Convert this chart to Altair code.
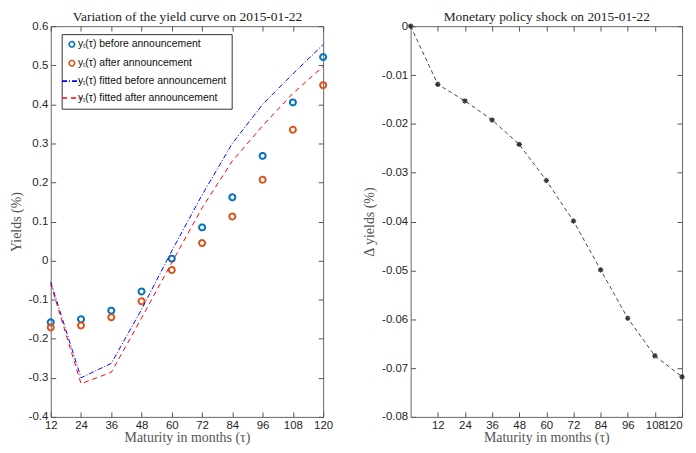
import altair as alt
import pandas as pd

# ---------------- data ----------------
maturities = [12, 24, 36, 48, 60, 72, 84, 96, 108, 120]
yield_before = [-0.158, -0.150, -0.128, -0.079, 0.005, 0.085, 0.162, 0.268, 0.405, 0.521]
yield_after = [-0.171, -0.166, -0.145, -0.104, -0.024, 0.045, 0.113, 0.207, 0.335, 0.449]
fit_before = [-0.055, -0.300, -0.263, -0.125, 0.025, 0.168, 0.300, 0.400, 0.478, 0.553]
fit_after = [-0.060, -0.315, -0.286, -0.147, -0.005, 0.135, 0.255, 0.345, 0.428, 0.497]

shock_maturities = [0, 12, 24, 36, 48, 60, 72, 84, 96, 108, 120]
shock = [0.0, -0.0119, -0.0153, -0.0192, -0.0242, -0.0316, -0.0399, -0.0499, -0.0598, -0.0675, -0.0718]

series_names = [
    "yₜ(τ) before announcement",
    "yₜ(τ) after announcement",
    "yₜ(τ) fitted before announcement",
    "yₜ(τ) fitted after announcement",
]
x_ticks = [12, 24, 36, 48, 60, 72, 84, 96, 108, 120]
left_y_ticks = [-0.4, -0.3, -0.2, -0.1, 0.0, 0.1, 0.2, 0.3, 0.4, 0.5, 0.6]
right_y_ticks = [0.0, -0.01, -0.02, -0.03, -0.04, -0.05, -0.06, -0.07, -0.08]

left_title = "Variation of the yield curve on 2015-01-22"
right_title = "Monetary policy shock on 2015-01-22"
x_title = "Maturity in months (τ)"
left_y_title = "Yields (%)"
right_y_title = "Δ yields (%)"

# ---------------- tables ----------------
rows = []
for vals, name in zip([yield_before, yield_after, fit_before, fit_after], series_names):
    for m, v in zip(maturities, vals):
        rows.append({"maturity": m, "value": v, "series": name,
                     "kind": "obs" if "fitted" not in name else "fit"})
left_df = pd.DataFrame(rows)
shock_df = pd.DataFrame({"maturity": shock_maturities, "value": shock})

# ---------------- styling ----------------
W, H = 274, 393
SANS = "Liberation Sans"
SERIF = "Liberation Serif"
TICK = 5
label_color = "#262626"
title_color = "#555555"

circle_path = "M1,0A1,1 0 1,1 -1,0A1,1 0 1,1 1,0Z"
line_path = "M-3.6,0L3.6,0"
star_path = "M-1,0L1,0M0,-1L0,1M-0.7,-0.7L0.7,0.7M-0.7,0.7L0.7,-0.7"


def axis_main(orient, values, title, lblexpr, flush=False):
    horiz = orient == "bottom"
    return alt.Axis(orient=orient, values=values, title=title, labelExpr=lblexpr,
                    offset=-TICK, tickSize=TICK, tickColor="#555555", domain=False,
                    grid=False, labelFont=SANS, labelFontSize=11.5, labelColor=label_color,
                    labelPadding=2.5 if horiz else 3, labelFlush=flush, labelOverlap=False,
                    minExtent=0,
                    titleFont=SERIF, titleFontSize=14, titleFontWeight="normal",
                    titleColor=title_color, titlePadding=0 if horiz else 5)


def axis_mirror(orient, values, title=None):
    if title is not None:
        kw = dict(title=title, titleFont=SERIF, titleFontSize=13.5, titleFontWeight="normal",
                  titleColor="#222222", titlePadding=7.5)
    else:
        kw = dict(title=None)
    return alt.Axis(orient=orient, values=values, labels=False,
                    offset=-TICK, tickSize=TICK, tickColor="#555555", domain=False, grid=False,
                    minExtent=0, maxExtent=0, **kw)


color_scale = alt.Scale(domain=series_names, range=["#0072BD", "#D95319", "#0000FF", "#FF0000"])
shape_scale = alt.Scale(domain=series_names, range=[circle_path, circle_path, line_path, line_path])
dash_scale = alt.Scale(domain=series_names, range=[[1, 0], [1, 0], [5, 2, 1, 2], [5, 4]])

lx = alt.Scale(domain=[12, 120], nice=False, zero=False)
ly = alt.Scale(domain=[-0.4, 0.6], nice=False, zero=False)
lbl1 = "datum.value == 0 ? '0' : '' + round(datum.value * 10) / 10"

legend = alt.Legend(title=None, orient="none", legendX=11, legendY=8,
                    fillColor="white", strokeColor="#333333", padding=5,
                    labelFont=SANS, labelFontSize=10.5, labelColor="#111111", labelLimit=0,
                    symbolSize=30, symbolStrokeWidth=1.6, rowPadding=6, labelOffset=1,
                    symbolFillColor="transparent")

pts = alt.Chart(left_df).transform_filter("datum.kind == 'obs'").mark_point(
    filled=False, strokeWidth=2, size=36, opacity=1
).encode(
    x=alt.X("maturity:Q", scale=lx, axis=axis_main("bottom", x_ticks, x_title, "'' + datum.value")),
    y=alt.Y("value:Q", scale=ly, axis=axis_main("left", left_y_ticks, left_y_title, lbl1)),
    color=alt.Color("series:N", scale=color_scale, legend=legend),
    shape=alt.Shape("series:N", scale=shape_scale, legend=legend),
    strokeDash=alt.StrokeDash("series:N", scale=dash_scale, legend=legend),
)

lines = alt.Chart(left_df).transform_filter("datum.kind == 'fit'").mark_line(strokeWidth=1).encode(
    x=alt.X("maturity:Q", scale=lx, axis=axis_mirror("top", x_ticks, left_title)),
    y=alt.Y("value:Q", scale=ly, axis=axis_mirror("right", left_y_ticks)),
    color=alt.Color("series:N", scale=color_scale, legend=legend),
    strokeDash=alt.StrokeDash("series:N", scale=dash_scale, legend=legend),
    detail="series:N",
)

left = alt.layer(pts, lines).resolve_axis(x="independent", y="independent").properties(
    width=W, height=H,
)

rx = alt.Scale(domain=[0, 120], nice=False, zero=False)
ry = alt.Scale(domain=[-0.08, 0.0], nice=False, zero=False)
lbl2 = "datum.value == 0 ? '0' : '' + round(datum.value * 100) / 100"

shock_line = alt.Chart(shock_df).mark_line(strokeWidth=1, color="#444444", strokeDash=[4, 3]).encode(
    x=alt.X("maturity:Q", scale=rx, axis=axis_main("bottom", x_ticks, x_title, "'' + datum.value", flush=True)),
    y=alt.Y("value:Q", scale=ry, axis=axis_main("left", right_y_ticks, right_y_title, lbl2)),
)
shock_pts = alt.Chart(shock_df).mark_point(shape=star_path, size=30, filled=False,
                                           color="#333333", strokeWidth=1.2, opacity=1).encode(
    x=alt.X("maturity:Q", scale=rx, axis=axis_mirror("top", x_ticks, right_title)),
    y=alt.Y("value:Q", scale=ry, axis=axis_mirror("right", right_y_ticks)),
)

right = alt.layer(shock_line, shock_pts).resolve_axis(x="independent", y="independent").properties(
    width=273, height=H,
)

chart = alt.hconcat(left, right, spacing=28).configure_view(
    stroke="#666666", strokeWidth=1
).properties(padding={"left": 0, "top": 0, "right": 0, "bottom": 0}, background="white")

chart.save("out.html", embed_options={"renderer": "svg", "actions": False})
